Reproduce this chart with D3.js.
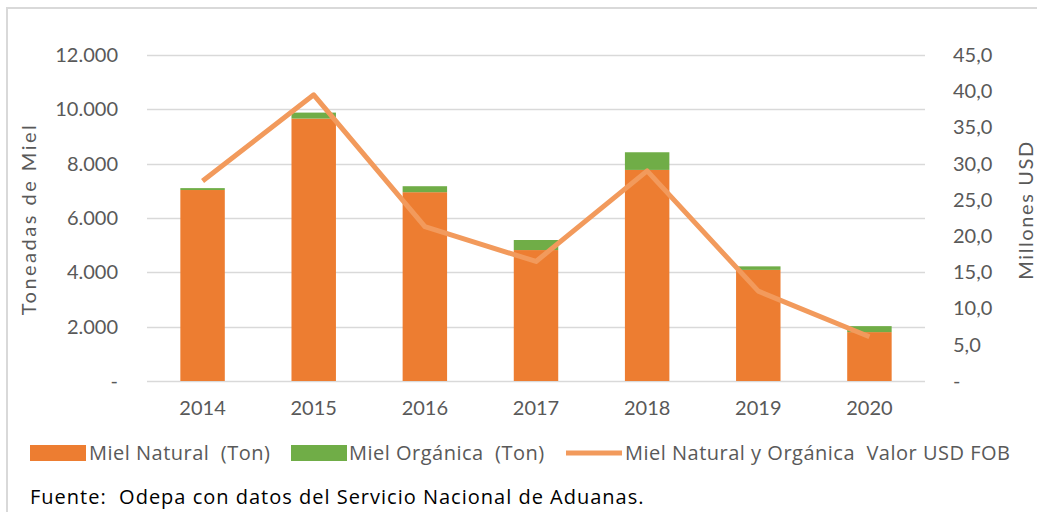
<!DOCTYPE html>
<html>
<head>
<meta charset="utf-8">
<script src="https://cdn.jsdelivr.net/npm/d3@7"></script>
<style>
  body { margin: 0; background: #fff; }
  svg { font-family: Lato, "Open Sans", sans-serif; }
</style>
</head>
<body>
<svg></svg>
<script>
var years = ["2014", "2015", "2016", "2017", "2018", "2019", "2020"];
var mielNatural = [7030, 9660, 6950, 4820, 7770, 4090, 1800];
var mielOrganica = [70, 220, 220, 370, 650, 130, 220];
var valorUSD = [27.6, 39.5, 21.3, 16.5, 29.0, 12.4, 6.1];
var leftTicks = [0, 2000, 4000, 6000, 8000, 10000, 12000];
var rightTicks = [0, 5, 10, 15, 20, 25, 30, 35, 40, 45];

var width = 1037;
var height = 512;
var plotTop = 55, plotBottom = 381, plotLeft = 147, plotRight = 925;

var esCL = d3.formatLocale({ decimal: ",", thousands: ".", grouping: [3], currency: ["$", ""] });
var fmtLeft = (d) => (d === 0 ? "-" : esCL.format(",.0f")(d));
var fmtRight = (d) => (d === 0 ? "-" : esCL.format(".1f")(d));

var svg = d3.select("svg").attr("width", width).attr("height", height);

// chart area border (top + left visible)
svg.append("path")
  .attr("d", "M7,512 V8 H1037")
  .attr("fill", "none")
  .attr("stroke", "#d9d9d9")
  .attr("stroke-width", 2);

var x = d3.scaleBand().domain(years).range([plotLeft, plotRight]).paddingInner(0.6).paddingOuter(0.3);
var y = d3.scaleLinear().domain([0, 12000]).range([plotBottom, plotTop]);
var y2 = d3.scaleLinear().domain([0, 45]).range([plotBottom, plotTop]);

// gridlines
svg.append("g")
  .selectAll("line")
  .data(leftTicks)
  .enter()
  .append("line")
  .attr("x1", plotLeft)
  .attr("x2", plotRight)
  .attr("y1", (d) => Math.round(y(d)) + 0.5)
  .attr("y2", (d) => Math.round(y(d)) + 0.5)
  .attr("stroke", "#d9d9d9")
  .attr("stroke-width", 1.5);

// stacked bars
var stackData = years.map((yr, i) => ({ year: yr, natural: mielNatural[i], organica: mielOrganica[i] }));
var series = d3.stack().keys(["natural", "organica"])(stackData);
var colors = { natural: "#ed7d31", organica: "#70ad47" };

svg.append("g")
  .selectAll("g")
  .data(series)
  .enter()
  .append("g")
  .attr("fill", (s) => colors[s.key])
  .selectAll("rect")
  .data((s) => s)
  .enter()
  .append("rect")
  .attr("x", (d) => x(d.data.year))
  .attr("width", x.bandwidth())
  .attr("y", (d) => y(d[1]))
  .attr("height", (d) => y(d[0]) - y(d[1]));

// line
var line = d3.line()
  .x((d, i) => x(years[i]) + x.bandwidth() / 2)
  .y((d) => y2(d));

svg.append("path")
  .datum(valorUSD)
  .attr("d", line)
  .attr("fill", "none")
  .attr("stroke", "#f29a5c")
  .attr("stroke-width", 5)
  .attr("stroke-linejoin", "round");

// axes
var leftAxis = svg.append("g")
  .attr("transform", `translate(${plotLeft},0)`)
  .call(d3.axisLeft(y).tickValues(leftTicks).tickFormat(fmtLeft).tickSize(0).tickPadding(29));

var rightAxis = svg.append("g")
  .attr("transform", `translate(${plotRight},0)`)
  .call(d3.axisRight(y2).tickValues(rightTicks).tickFormat(fmtRight).tickSize(0).tickPadding(28));

var bottomAxis = svg.append("g")
  .attr("transform", `translate(0,${plotBottom})`)
  .call(d3.axisBottom(x).tickSize(0).tickPadding(20));

[leftAxis, rightAxis, bottomAxis].forEach((g) => {
  g.select(".domain").remove();
  g.selectAll("text")
    .attr("fill", "#595959")
    .style("font-family", "Lato, sans-serif")
    .style("font-size", "20px");
});

// axis titles
svg.append("text")
  .attr("transform", "translate(36,219) rotate(-90)")
  .attr("text-anchor", "middle")
  .attr("fill", "#595959")
  .style("font-size", "20px")
  .style("letter-spacing", "2.5px")
  .text("Toneadas de Miel");

svg.append("text")
  .attr("transform", "translate(1033,210) rotate(-90)")
  .attr("text-anchor", "middle")
  .attr("fill", "#595959")
  .style("font-size", "20px")
  .style("letter-spacing", "1.6px")
  .text("Millones USD");

// legend
var legendItems = ["Miel Natural  (Ton)", "Miel Orgánica  (Ton)", "Miel Natural y Orgánica  Valor USD FOB"];
var legendX = [89, 349, 625];
var legend = svg.append("g");
legend.append("rect").attr("x", 30).attr("y", 445).attr("width", 56).attr("height", 16).attr("fill", colors.natural);
legend.append("rect").attr("x", 291).attr("y", 445).attr("width", 56).attr("height", 16).attr("fill", colors.organica);
legend.append("line").attr("x1", 566).attr("x2", 622).attr("y1", 453).attr("y2", 453)
  .attr("stroke", "#f29a5c").attr("stroke-width", 5);
legend.selectAll("text")
  .data(legendItems)
  .enter()
  .append("text")
  .attr("x", (d, i) => legendX[i])
  .attr("y", 460)
  .attr("fill", "#595959")
  .attr("xml:space", "preserve")
  .style("font-family", "'Open Sans', sans-serif")
  .style("font-size", "20px")
  .style("letter-spacing", "0.5px")
  .text((d) => d);

svg.append("text")
  .attr("x", 30)
  .attr("y", 504)
  .attr("fill", "#000")
  .style("font-family", "'Open Sans', sans-serif")
  .style("font-size", "20px")
  .style("letter-spacing", "1px")
  .attr("xml:space", "preserve")
  .text("Fuente:  Odepa con datos del Servicio Nacional de Aduanas.");
</script>
</body>
</html>
